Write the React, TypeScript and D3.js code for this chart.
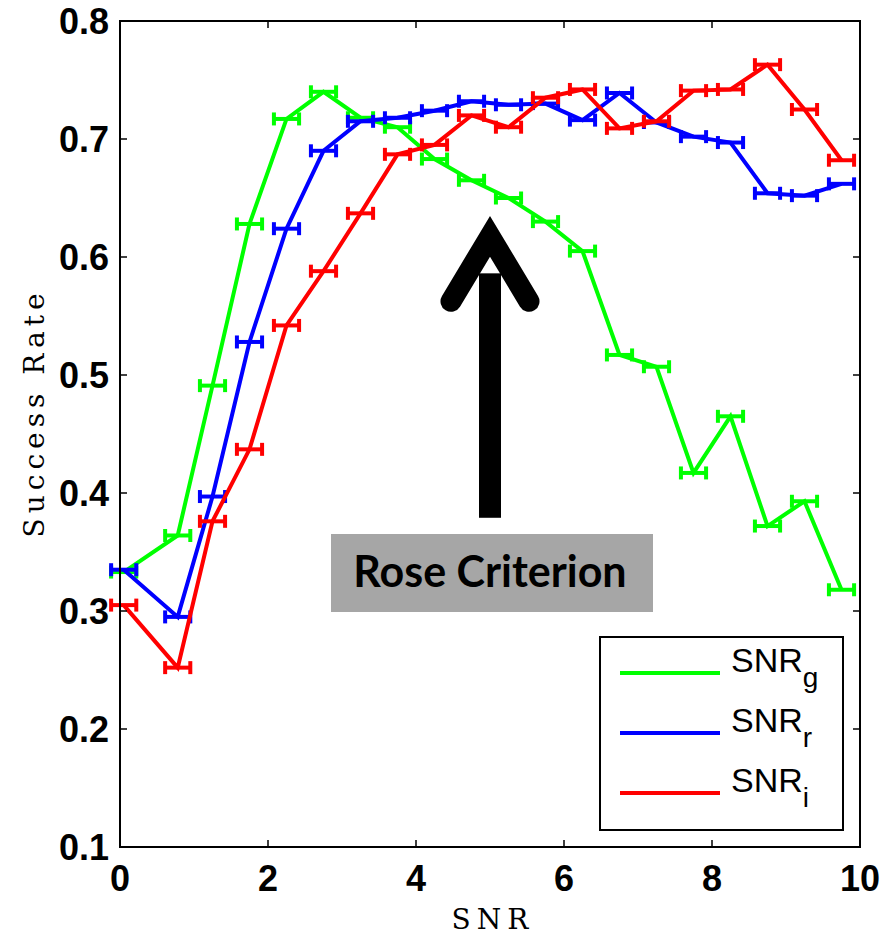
import React from "react";
import * as d3 from "d3";

const snrX = [0.05, 0.78, 1.25, 1.75, 2.25, 2.75, 3.25, 3.75, 4.25, 4.75, 5.25, 5.75, 6.25, 6.75, 7.25, 7.75, 8.25, 8.75, 9.25, 9.75];
const snrG = [0.333, 0.364, 0.491, 0.628, 0.717, 0.740, 0.718, 0.710, 0.683, 0.665, 0.650, 0.630, 0.605, 0.517, 0.507, 0.417, 0.465, 0.372, 0.393, 0.318];
const snrR = [0.335, 0.295, 0.397, 0.528, 0.624, 0.690, 0.715, 0.718, 0.724, 0.732, 0.729, 0.730, 0.716, 0.739, 0.714, 0.702, 0.697, 0.654, 0.652, 0.662];
const snrI = [0.305, 0.252, 0.376, 0.437, 0.542, 0.588, 0.637, 0.687, 0.695, 0.720, 0.710, 0.735, 0.742, 0.709, 0.715, 0.741, 0.742, 0.763, 0.725, 0.682];
const xErr = 0.17;

const xTicks = [0, 2, 4, 6, 8, 10];
const yTicks = [0.1, 0.2, 0.3, 0.4, 0.5, 0.6, 0.7, 0.8];

const seriesNames = ["g", "r", "i"];
const seriesColors = ["#00ff00", "#0000ff", "#ff0000"];
const seriesValues = [snrG, snrR, snrI];

const arrowX = 5.0;
const arrowTop = 0.637;
const arrowBottom = 0.379;

export default function App() {
  const W = 880, H = 935;
  const left = 120, right = 860, top = 21, bottom = 847;
  const x = d3.scaleLinear().domain([0, 10]).range([left, right]);
  const y = d3.scaleLinear().domain([0.1, 0.8]).range([bottom, top]);
  const line = d3.line<[number, number]>().x(d => x(d[0])).y(d => y(d[1]));
  const tickLen = 7;
  const capH = 6.5;

  const ax = x(arrowX);
  const tipY = y(arrowTop);
  const baseY = y(arrowBottom);

  return (
    <svg width={W} height={H} style={{ position: "absolute", left: 0, top: 0, background: "#fff" }}>
      {seriesValues.map((vals, si) => {
        const pts: [number, number][] = snrX.map((xv, i) => [xv, vals[i]]);
        const col = seriesColors[si];
        return (
          <g key={si}>
            <path d={line(pts) || ""} fill="none" stroke={col} strokeWidth={4} strokeLinejoin="miter" />
            {pts.map((p, i) => (
              <g key={i} stroke={col} strokeWidth={4}>
                <line x1={x(p[0] - xErr)} x2={x(p[0] + xErr)} y1={y(p[1])} y2={y(p[1])} />
                <line x1={x(p[0] - xErr)} x2={x(p[0] - xErr)} y1={y(p[1]) - capH} y2={y(p[1]) + capH} />
                <line x1={x(p[0] + xErr)} x2={x(p[0] + xErr)} y1={y(p[1]) - capH} y2={y(p[1]) + capH} />
              </g>
            ))}
          </g>
        );
      })}

      <rect x={left} y={top} width={right - left} height={bottom - top} fill="none" stroke="#000" strokeWidth={2} />
      {xTicks.map(t => (
        <g key={"xt" + t}>
          <line x1={x(t)} x2={x(t)} y1={bottom} y2={bottom - tickLen} stroke="#000" strokeWidth={1.5} />
          <line x1={x(t)} x2={x(t)} y1={top} y2={top + tickLen} stroke="#000" strokeWidth={1.5} />
          <text x={x(t)} y={bottom + 44} textAnchor="middle" fontFamily="Liberation Sans, Arial, sans-serif" fontWeight="bold" fontSize={36} fill="#000">{t}</text>
        </g>
      ))}
      {yTicks.map(t => (
        <g key={"yt" + t}>
          <line x1={left} x2={left + tickLen} y1={y(t)} y2={y(t)} stroke="#000" strokeWidth={1.5} />
          <line x1={right} x2={right - tickLen} y1={y(t)} y2={y(t)} stroke="#000" strokeWidth={1.5} />
          <text x={left - 11} y={y(t) + 13} textAnchor="end" fontFamily="Liberation Sans, Arial, sans-serif" fontWeight="bold" fontSize={36} fill="#000">{t.toFixed(1)}</text>
        </g>
      ))}

      <text x={493} y={929} textAnchor="middle" fontFamily="DejaVu Serif, serif" fontSize={28} letterSpacing={6} fill="#000">SNR</text>
      <text transform={`translate(44,413) rotate(-90)`} textAnchor="middle" fontFamily="DejaVu Serif, serif" fontSize={28} letterSpacing={5} fill="#000">Success Rate</text>

      <rect x={ax - 11} y={tipY + 60} width={22} height={baseY - tipY - 60} fill="#000" />
      <path d={`M${ax - 39},${tipY + 88} L${ax},${tipY + 23} L${ax + 39},${tipY + 88}`} fill="none" stroke="#000" strokeWidth={21} strokeLinecap="round" strokeLinejoin="miter" strokeMiterlimit={10} />

      <rect x={331} y={534} width={322} height={78} fill="#a6a6a6" />
      <text x={490} y={587} textAnchor="middle" fontFamily="Lato, Open Sans, sans-serif" fontWeight="bold" fontSize={43} fill="#000">Rose Criterion</text>

      <rect x={600} y={637} width={243} height={193} fill="#fff" stroke="#000" strokeWidth={2} />
      {seriesNames.map((n, i) => {
        const ly = 673 + i * 60;
        return (
          <g key={n}>
            <line x1={620} x2={720} y1={ly} y2={ly} stroke={seriesColors[i]} strokeWidth={4} />
            <text x={731} y={ly - 1} fontFamily="Liberation Sans, Arial, sans-serif" fontSize={34} fill="#000">
              SNR<tspan dy={15} fontSize={28}>{n}</tspan>
            </text>
          </g>
        );
      })}
    </svg>
  );
}
